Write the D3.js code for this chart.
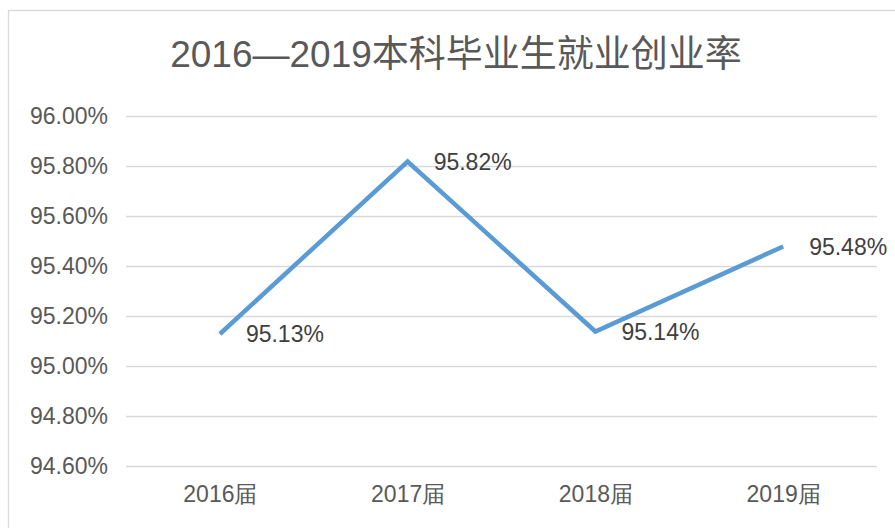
<!DOCTYPE html>
<meta charset="utf-8">
<head>
  <script type="text/javascript" src="https://cdn.jsdelivr.net/npm/d3@7/dist/d3.min.js"></script>
</head>
<style type="text/css">
  body {
    margin: 0;
    background: #fff;
    font-family: "Liberation Sans", Arial, "Noto Sans CJK SC", sans-serif;
  }
  .grid line { stroke: #d9d9d9; stroke-width: 1.3px; }
  .axis text { fill: #595959; font-size: 23px; }
  .label { fill: #404040; font-size: 23px; }
</style>
<body>
</body>
<script type="text/javascript">

var years = ["2016届", "2017届", "2018届", "2019届"];
var rates = [95.13, 95.82, 95.14, 95.48];
var yTicks = [94.6, 94.8, 95.0, 95.2, 95.4, 95.6, 95.8, 96.0];

var width = 895,
    height = 528;

var svg = d3.select("body").append("svg")
    .attr("width", width)
    .attr("height", height);

// chart frame (runs off the right and bottom like the screenshot)
svg.append("rect")
    .attr("x", 8.5)
    .attr("y", 10.5)
    .attr("width", 900)
    .attr("height", 540)
    .attr("fill", "none")
    .attr("stroke", "#d9d9d9")
    .attr("stroke-width", 1.3);

var x = d3.scalePoint()
    .domain(years)
    .range([126, 877])
    .padding(0.5);

var y = d3.scaleLinear()
    .domain([94.6, 96.0])
    .range([466.5, 116.5]);

svg.append("g")
    .attr("class", "grid")
  .selectAll("line")
    .data(yTicks)
  .enter().append("line")
    .attr("x1", 126)
    .attr("x2", 877)
    .attr("y1", function(d) { return y(d); })
    .attr("y2", function(d) { return y(d); });

var yAxis = svg.append("g")
    .attr("class", "axis")
    .attr("transform", "translate(108,0)")
    .call(d3.axisLeft(y).tickValues(yTicks).tickSize(0).tickPadding(0)
      .tickFormat(function(d) { return d.toFixed(2) + "%"; }));
yAxis.select(".domain").remove();
yAxis.selectAll("text").attr("font-family", null).attr("font-size", null);

var xAxis = svg.append("g")
    .attr("class", "axis")
    .attr("transform", "translate(0,486)")
    .call(d3.axisBottom(x).tickSize(0).tickPadding(0));
xAxis.select(".domain").remove();
xAxis.selectAll("text").attr("font-family", null).attr("font-size", null);

var line = d3.line()
    .x(function(d, i) { return x(years[i]); })
    .y(function(d) { return y(d); });

svg.append("path")
    .datum(rates)
    .attr("fill", "none")
    .attr("stroke", "#5b9bd5")
    .attr("stroke-width", 4.5)
    .attr("stroke-linejoin", "miter")
    .attr("d", line);

svg.selectAll(".label")
    .data(rates)
  .enter().append("text")
    .attr("class", "label")
    .attr("x", function(d, i) { return x(years[i]) + 26; })
    .attr("y", function(d) { return y(d); })
    .attr("dy", "0.35em")
    .text(function(d) { return d.toFixed(2) + "%"; });

svg.append("text")
    .attr("x", 456)
    .attr("y", 67)
    .attr("text-anchor", "middle")
    .style("font-size", "37px")
    .style("fill", "#595959")
    .text("2016—2019本科毕业生就业创业率");

</script>
</html>
